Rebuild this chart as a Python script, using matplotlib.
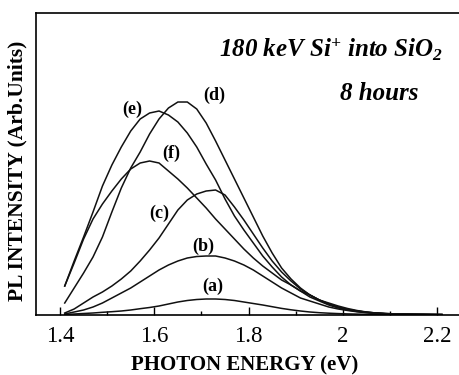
import matplotlib
matplotlib.use("Agg")
import matplotlib.pyplot as plt
from matplotlib.ticker import MultipleLocator

# photon energy grid (eV) and PL intensity of each spectrum (arb. units)
energy = [1.41, 1.43, 1.45, 1.47, 1.49, 1.51, 1.53, 1.55, 1.57, 1.59,
          1.61, 1.63, 1.65, 1.67, 1.69, 1.71, 1.73, 1.75, 1.77, 1.79,
          1.81, 1.83, 1.85, 1.87, 1.89, 1.91, 1.93, 1.95, 1.97, 1.99,
          2.01, 2.03, 2.05, 2.07, 2.09, 2.11, 2.13, 2.15, 2.17, 2.19, 2.21]

curve_a = [0.5, 1, 1.5, 2, 2.7, 3.3, 4, 5, 6.3, 7.5,
           9, 11, 13, 14.5, 15.5, 16, 16, 15.5, 14.5, 13,
           11.5, 10, 8.3, 6.6, 5.2, 4, 3, 2.3, 1.8, 1.4,
           1.1, 0.9, 0.7, 0.6, 0.5, 0.5, 0.4, 0.4, 0.4, 0.3, 0.3]

curve_b = [1, 3, 5, 8, 12, 17, 22, 27, 33, 39,
           45, 50, 54, 57, 58.5, 59, 59, 57, 54, 50,
           45, 39, 33, 27, 22, 17, 14, 11, 8, 6,
           4.5, 3.2, 2.3, 1.6, 1.2, 0.9, 0.7, 0.6, 0.5, 0.4, 0.4]

curve_c = [2, 6, 12, 18, 23, 29, 36, 44, 54, 65,
           77, 91, 105, 115, 121, 124, 125, 120, 108, 95,
           81, 67, 54, 43, 34, 26, 20, 15, 11, 8,
           5.5, 4, 2.8, 2, 1.4, 1.1, 0.9, 0.7, 0.6, 0.5, 0.4]

curve_d = [12, 27, 42, 58, 78, 103, 127, 147, 163, 181,
           196, 207, 213, 213, 206, 192, 174, 155, 136, 117,
           98, 79, 62, 47, 36, 27, 20, 15, 11, 8,
           5.5, 4, 2.8, 2, 1.4, 1.1, 0.9, 0.7, 0.6, 0.5, 0.4]

curve_e = [29, 54, 78, 103, 129, 150, 168, 184, 196, 202,
           204, 200, 193, 182, 168, 151, 135, 116, 99, 85,
           72, 59, 48, 38, 30, 24, 18, 14, 10, 7,
           5, 3.5, 2.5, 1.8, 1.3, 1, 0.8, 0.7, 0.6, 0.5, 0.4]

curve_f = [29, 52, 76, 96, 111, 124, 136, 146, 152, 154,
           152, 144, 136, 127, 117, 107, 96, 86, 76, 66,
           57, 49, 42, 35, 30, 24, 20, 15, 12, 9,
           6.5, 4.5, 3, 2, 1.5, 1.1, 0.9, 0.7, 0.6, 0.5, 0.4]

curves = [curve_a, curve_b, curve_c, curve_d, curve_e, curve_f]

# curve labels and where they sit (energy, intensity)
label_names = ["(a)", "(b)", "(c)", "(d)", "(e)", "(f)"]
label_x = [1.725, 1.704, 1.610, 1.728, 1.553, 1.635]
label_y = [28.7, 68.3, 101.7, 220, 206, 161.7]

x_ticks = [1.4, 1.6, 1.8, 2.0, 2.2]
x_tick_labels = ["1.4", "1.6", "1.8", "2", "2.2"]

plt.rcParams["font.family"] = ["Liberation Serif", "DejaVu Serif"]
plt.rcParams["mathtext.fontset"] = "custom"
plt.rcParams["mathtext.rm"] = "Liberation Serif:bold:italic"
plt.rcParams["mathtext.it"] = "Liberation Serif:bold:italic"
plt.rcParams["mathtext.bf"] = "Liberation Serif:bold:italic"

fig = plt.figure(figsize=(4.6, 3.75), dpi=100)
ax = fig.add_axes([0.0783, 0.16, 0.9217, 0.8053])

for ys in curves:
    ax.plot(energy, ys, color="#111111", linewidth=1.1)

for name, lx, ly in zip(label_names, label_x, label_y):
    ax.text(lx, ly, name, fontsize=13, fontweight="bold", ha="center", va="center")

ax.text(1.975, 265, r"180 keV Si$^{+}$ into SiO$_{2}$", fontsize=18, fontweight="bold",
        fontstyle="italic", ha="center", va="center")
ax.text(2.077, 222, "8 hours", fontsize=18, fontweight="bold", fontstyle="italic",
        ha="center", va="center")

ax.set_xlim(1.3491, 2.2484)
ax.set_ylim(0, 302)
ax.set_xticks(x_ticks)
ax.set_xticklabels(x_tick_labels)
ax.xaxis.set_minor_locator(MultipleLocator(0.1))
ax.tick_params(axis="x", which="major", direction="in", length=6, width=1, labelsize=16.5, pad=8)
ax.tick_params(axis="x", which="minor", direction="in", length=3, width=1)
ax.set_yticks([])
for sp in ax.spines.values():
    sp.set_linewidth(1.2)

ax.set_xlabel("PHOTON ENERGY (eV)", fontsize=15, fontweight="bold")
ax.set_ylabel("PL INTENSITY (Arb.Units)", fontsize=15.5, fontweight="bold")
ax.xaxis.set_label_coords(0.493, -0.135)
ax.yaxis.set_label_coords(-0.019, 0.477)

fig.savefig("out.png", dpi=100)
